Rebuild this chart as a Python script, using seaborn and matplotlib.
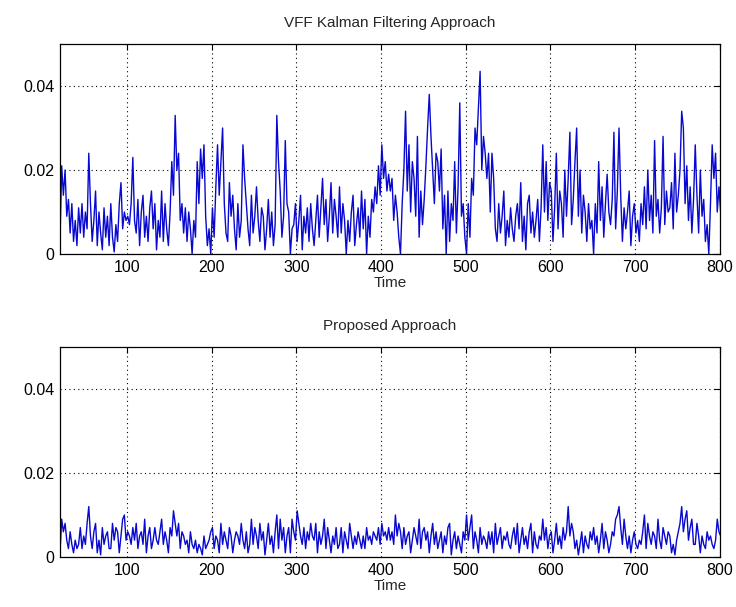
import numpy as np
import pandas as pd
import matplotlib
matplotlib.use("Agg")
import matplotlib.pyplot as plt
import seaborn as sns

# time axis: samples every 2 time units from 21
time = list(range(21, 802, 2))

# error values, in units of 1e-3
vff_milli = [
    3, 21, 14, 20, 9, 13, 5, 12, 3, 8, 2, 11, 5, 12, 4,
    10, 6, 24, 12, 3, 8, 15, 2, 10, 5, 1, 11, 4, 9, 2,
    12, 4, 0.5, 7, 3, 12, 17, 6, 10, 8, 9, 7, 12, 23, 8,
    5, 13, 2, 10, 14, 4, 9, 3, 11, 15, 6, 12, 1, 8, 4,
    15, 3, 12, 6, 2, 10, 22, 14, 33, 20, 24, 8, 12, 5, 11,
    3, 10, 6, 0, 8, 4, 22, 12, 25, 18, 26, 9, 2, 6, 0,
    11, 4, 16, 26, 14, 22, 30, 12, 5, 3, 17, 9, 14, 6, 1,
    12, 4, 8, 26, 18, 12, 6, 2, 14, 5, 9, 16, 8, 3, 11,
    9, 1, 6, 13, 4, 10, 2, 7, 33, 22, 15, 4, 9, 27, 12,
    10, 0, 6, 7, 12, 3, 8, 14, 1, 9, 5, 11, 3, 12, 6,
    2, 8, 14, 4, 11, 18, 7, 13, 3, 9, 17, 5, 13, 9, 4,
    16, 5, 12, 8, 0, 8, 3, 10, 14, 2, 7, 11, 4, 15, 6,
    13, 0, 9, 4, 13, 10, 16, 12, 21, 14, 26, 18, 22, 15, 19,
    15, 18, 8, 14, 10, 4, 0, 12, 20, 34, 15, 26, 10, 22, 18,
    9, 28, 4, 15, 7, 13, 21, 30, 38, 28, 20, 12, 24, 22, 15,
    25, 6, 14, 0, 15, 3, 12, 8, 22, 5, 16, 36, 9, 12, 4,
    0, 12, 4, 18, 14, 30, 26, 35, 43.5, 20, 28, 24, 18, 24, 10,
    24, 18, 6, 3, 12, 5, 9, 15, 2, 8, 4, 11, 6, 3, 9,
    12, 6, 17, 3, 9, 1, 12, 14, 5, 10, 4, 8, 13, 3, 11,
    26, 10, 22, 8, 17, 15, 3, 11, 24, 6, 15, 12, 4, 20, 9,
    18, 29, 7, 13, 22, 30, 9, 20, 5, 14, 10, 3, 12, 6, 8,
    0, 12, 5, 22, 8, 16, 4, 12, 19, 10, 7, 13, 29, 6, 15,
    30, 14, 3, 11, 6, 10, 15, 2, 9, 12, 5, 8, 3, 12, 7,
    16, 6, 20, 8, 14, 5, 27, 9, 13, 5, 11, 28, 7, 15, 10,
    11, 17, 6, 24, 10, 14, 20, 34, 30, 12, 21, 8, 16, 5, 13,
    26, 14, 5, 20, 9, 13, 3, 7, 0, 12, 26, 18, 24, 10, 16,
    10,
]

proposed_milli = [
    1, 9, 6, 8, 4, 2, 6, 3, 1, 4, 2, 3, 7, 2, 5,
    3, 8, 12, 5, 2, 6, 8, 1, 4, 0.5, 7, 3, 5, 6, 2,
    2, 8, 4, 7, 6, 1, 5, 9, 10, 4, 6, 5, 3, 7, 4,
    8, 2, 5, 6, 3, 9, 1, 5, 7, 2, 4, 7, 4, 3, 6,
    9, 3, 6, 4, 1, 7, 5, 11, 8, 5, 8, 2, 6, 5, 3,
    4, 1, 6, 3, 2, 4, 1, 3, 2, 0.5, 5, 2, 3, 4, 6,
    7, 2, 5, 4, 1, 8, 3, 6, 4, 2, 7, 5, 1, 4, 6,
    5, 3, 8, 4, 2, 6, 1, 3, 9, 3, 7, 5, 2, 8, 4,
    6, 0.5, 4, 8, 3, 5, 1, 6, 10, 2, 9, 4, 7, 1, 5,
    7, 1, 9, 6, 4, 11, 8, 5, 3, 7, 2, 6, 4, 8, 5,
    4, 8, 1, 6, 3, 5, 9, 2, 7, 4, 1, 5, 3, 7, 2,
    3, 7, 1, 6, 4, 2, 8, 5, 2, 5, 3, 6, 4, 2, 5,
    2, 7, 4, 5, 3, 6, 5, 4, 7, 3, 8, 5, 6, 4, 7,
    4, 6, 3, 10, 5, 8, 6, 2, 7, 3, 5, 6, 1, 4, 7,
    5, 3, 9, 2, 6, 7, 4, 6, 1, 5, 8, 3, 6, 2, 4,
    6, 1, 5, 3, 7, 8, 0.5, 4, 6, 2, 5, 3, 1, 6, 4,
    10, 4, 7, 10, 2, 6, 4, 1, 7, 3, 5, 4, 2, 6, 3,
    6, 1, 8, 3, 5, 7, 2, 5, 4, 6, 3, 2, 5, 7, 3,
    8, 1, 4, 7, 3, 5, 2, 6, 8, 1, 6, 3, 2, 5, 4,
    9, 4, 7, 2, 5, 6, 1, 4, 8, 3, 5, 2, 7, 4, 6,
    12, 5, 8, 6, 2, 4, 0.5, 3, 6, 1, 5, 3, 2, 6, 4,
    7, 3, 5, 1, 4, 8, 2, 6, 4, 1, 3, 6, 5, 9, 10,
    12, 7, 3, 9, 5, 2, 5, 1, 4, 6, 3, 2, 4, 3, 6,
    10, 2, 8, 5, 3, 6, 5, 2, 9, 4, 2, 7, 5, 3, 6,
    5, 1, 3, 0.5, 4, 6, 8, 12, 6, 9, 11, 4, 7, 9, 3,
    3, 8, 5, 1, 5, 3, 2, 6, 4, 5, 3, 2, 4, 9, 6,
    5,
]

titles = ["VFF Kalman Filtering Approach", "Proposed Approach"]
x_ticks = [100, 200, 300, 400, 500, 600, 700, 800]
y_ticks = [0, 0.02, 0.04]
y_tick_labels = ["0", "0.02", "0.04"]

sns.set_style("white")
plt.rcParams["font.family"] = ["Liberation Sans", "DejaVu Sans"]
plt.rcParams["xtick.direction"] = "in"
plt.rcParams["ytick.direction"] = "in"

fig = plt.figure(figsize=(7.36, 6.07), dpi=100)
ax_top = fig.add_axes([0.0815, 0.5815, 0.8965, 0.346])
ax_bot = fig.add_axes([0.0815, 0.0824, 0.8965, 0.346])

series = [vff_milli, proposed_milli]
for ax, vals, title in zip([ax_top, ax_bot], series, titles):
    df = pd.DataFrame({"Time": time, "err": np.array(vals) * 1e-3})
    sns.lineplot(data=df, x="Time", y="err", ax=ax, color="#0808d0",
                 linewidth=1.0, estimator=None)
    ax.set_xlim(21, 800)
    ax.set_ylim(0, 0.05)
    ax.set_xticks(x_ticks)
    ax.set_xticklabels([str(t) for t in x_ticks])
    ax.set_yticks(y_ticks)
    ax.set_yticklabels(y_tick_labels)
    ax.tick_params(axis="both", which="both", top=True, right=True,
                   length=4, width=0.8, labelsize=11.5, colors="black", pad=4)
    ax.grid(True, linestyle=(0, (1, 3)), color="black", linewidth=0.8)
    for sp in ax.spines.values():
        sp.set_visible(True)
        sp.set_color("black")
        sp.set_linewidth(0.9)
    ax.set_xlabel("Time", fontsize=11, labelpad=1)
    ax.set_ylabel("")
    ax.set_title(title, fontsize=11, pad=12)

fig.savefig("out.png", dpi=100, facecolor="white")
